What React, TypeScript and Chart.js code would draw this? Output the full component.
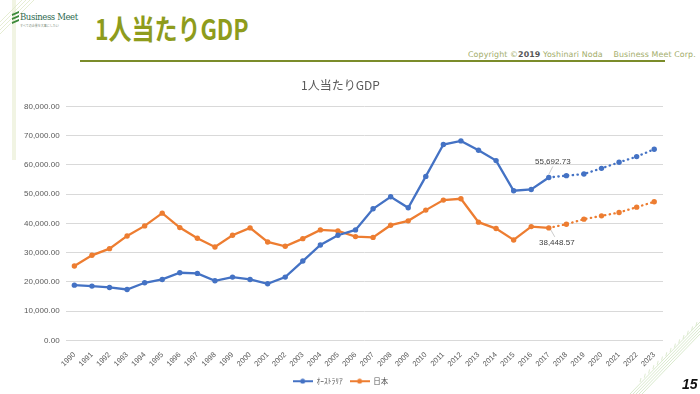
import React, { useEffect, useRef } from "react";
import { Chart, registerables } from "chart.js";

Chart.register(...registerables);

const years = [
  "1990","1991","1992","1993","1994","1995","1996","1997","1998","1999",
  "2000","2001","2002","2003","2004","2005","2006","2007","2008","2009",
  "2010","2011","2012","2013","2014","2015","2016","2017","2018","2019",
  "2020","2021","2022","2023",
];

const australia = [
  18880, 18540, 18080, 17400, 19680, 20830, 23120, 22890, 20370, 21630,
  20830, 19330, 21630, 27120, 32620, 35950, 37770, 44980, 49100, 45320,
  56070, 66950, 68210, 65000, 61460, 51160, 51600, 55692.73, 56310, 56890,
  58820, 60880, 62830, 65340,
];

const japan = [
  25400, 29080, 31350, 35700, 39140, 43500, 38560, 34900, 31930, 35950,
  38450, 33650, 32170, 34780, 37770, 37420, 35470, 35200, 39380, 40860,
  44530, 47960, 48410, 40410, 38220, 34330, 38900, 38448.57, 39720, 41440,
  42570, 43710, 45550, 47380,
];

const seriesNames = ["ｵｰｽﾄﾗﾘｱ", "日本"];
const seriesColors = ["#4472C4", "#ED7D31"];
const forecastFrom = 27; // index of 2017, last actual value
const yTicks = [0, 10000, 20000, 30000, 40000, 50000, 60000, 70000, 80000];

function legendIcon(color: string) {
  const c = document.createElement("canvas");
  c.width = 20;
  c.height = 6;
  const g = c.getContext("2d")!;
  g.strokeStyle = color;
  g.lineWidth = 2;
  g.beginPath();
  g.moveTo(0, 3);
  g.lineTo(20, 3);
  g.stroke();
  g.fillStyle = color;
  g.beginPath();
  g.arc(10, 3, 2.5, 0, Math.PI * 2);
  g.fill();
  return c;
}

const labelPlugin = {
  id: "endLabels",
  afterDatasetsDraw(chart: any) {
    const ctx = chart.ctx;
    const specs = [
      { ds: 0, dx: 4, dy: -16, lx0: 0, ly0: -3, lx1: 4, ly1: -11 },
      { ds: 1, dx: 8, dy: 15, lx0: 2, ly0: 2, lx1: 6, ly1: 9 },
    ];
    ctx.save();
    ctx.font = "8px 'Liberation Sans', Arial, sans-serif";
    ctx.textAlign = "center";
    ctx.textBaseline = "middle";
    for (const s of specs) {
      const meta = chart.getDatasetMeta(s.ds);
      const pt = meta.data[forecastFrom];
      const val = chart.data.datasets[s.ds].data[forecastFrom] as number;
      ctx.strokeStyle = "#bfbfbf";
      ctx.lineWidth = 0.8;
      ctx.beginPath();
      ctx.moveTo(pt.x + s.lx0, pt.y + s.ly0);
      ctx.lineTo(pt.x + s.lx1, pt.y + s.ly1);
      ctx.stroke();
      ctx.fillStyle = "#404040";
      ctx.fillText(
        val.toLocaleString("en-US", { minimumFractionDigits: 2, maximumFractionDigits: 2 }),
        pt.x + s.dx,
        pt.y + s.dy
      );
    }
    ctx.restore();
  },
};

function GdpChart() {
  const ref = useRef<HTMLCanvasElement>(null);
  useEffect(() => {
    const dash = (ctx: any) => (ctx.p0DataIndex >= forecastFrom ? [0.4, 4.4] : undefined);
    const mk = (i: number, data: number[]) => ({
      label: seriesNames[i],
      data,
      borderColor: seriesColors[i],
      backgroundColor: seriesColors[i],
      borderWidth: 2.3,
      pointRadius: 2.7,
      pointHoverRadius: 2.7,
      pointBorderWidth: 0,
      tension: 0,
      segment: { borderDash: dash, borderCapStyle: (c: any) => (c.p0DataIndex >= forecastFrom ? "round" : "butt") },
    });
    const chart = new Chart(ref.current!, {
      type: "line",
      data: { labels: years, datasets: [mk(0, australia), mk(1, japan)] },
      plugins: [labelPlugin],
      options: {
        animation: false,
        responsive: true,
        maintainAspectRatio: false,
        layout: { padding: { left: 18, right: 37, top: 0, bottom: 2 } },
        plugins: {
          tooltip: { enabled: false },
          title: {
            display: true,
            text: "1人当たりGDP",
            color: "#595959",
            font: { size: 12, family: "'Noto Sans CJK JP', 'Noto Sans', sans-serif", weight: "normal" },
            padding: { top: 7, bottom: 14 },
          },
          legend: {
            position: "bottom",
            labels: {
              color: "#595959",
              font: { size: 7.5, family: "'Noto Sans CJK JP', sans-serif" },
              usePointStyle: true,
              pointStyleWidth: 20,
              boxHeight: 6,
              padding: 7,
              generateLabels: (c: any) =>
                c.data.datasets.map((d: any, i: number) => ({
                  text: d.label,
                  fillStyle: seriesColors[i],
                  strokeStyle: seriesColors[i],
                  pointStyle: legendIcon(seriesColors[i]),
                  datasetIndex: i,
                  fontColor: "#595959",
                  lineWidth: 0,
                })),
            },
          },
        },
        scales: {
          x: {
            offset: true,
            grid: { display: false },
            border: { display: false },
            ticks: {
              color: "#595959",
              font: { size: 7.5, family: "'Liberation Sans', Arial, sans-serif" },
              minRotation: 45,
              maxRotation: 45,
              autoSkip: false,
              padding: 2,
            },
          },
          y: {
            min: 0,
            max: 80000,
            afterBuildTicks: (axis: any) => {
              axis.ticks = yTicks.map((v) => ({ value: v }));
            },
            grid: { color: "#d9d9d9", lineWidth: 1, drawTicks: false },
            border: { display: false },
            ticks: {
              color: "#595959",
              font: { size: 8, family: "'Liberation Sans', Arial, sans-serif" },
              padding: 6,
              callback: (v: any) =>
                Number(v).toLocaleString("en-US", { minimumFractionDigits: 2, maximumFractionDigits: 2 }),
            },
          },
        },
      } as any,
    });
    return () => chart.destroy();
  }, []);
  return (
    <div style={{ position: "absolute", left: 0, top: 71, width: 700, height: 326 }}>
      <canvas ref={ref} />
    </div>
  );
}

export default function App() {
  useEffect(() => {
    document.body.style.margin = "0";
  }, []);
  return (
    <div
      style={{
        position: "relative",
        width: 700,
        height: 394,
        overflow: "hidden",
        background: "#ffffff",
        fontFamily: "'Noto Sans CJK JP', 'Noto Sans', sans-serif",
      }}
    >
      {/* left pale band */}
      <div style={{ position: "absolute", left: 12, top: 0, width: 4, height: 160, background: "#f1f4e3" }} />
      {/* decorative lines */}
      <svg width={700} height={394} style={{ position: "absolute", left: 0, top: 0 }}>
        {[0, 4, 8, 12].map((o) => (
          <line key={"tl" + o} x1={0} y1={22 + o} x2={22 + o} y2={0} stroke="#dfe8c8" strokeWidth={0.8} />
        ))}
        {[0, 3, 6, 9, 12].map((o) => (
          <line key={"br" + o} x1={630 + o} y1={394} x2={700} y2={322 + o} stroke="#cfe3c0" strokeWidth={0.8} />
        ))}
        {Array.from({ length: 14 }).map((_, k) => {
          const x = 640 + k * 4.3;
          const y = 394 - (x - 630) - 2;
          return <line key={"tk" + k} x1={x} y1={y} x2={x + 1} y2={y - 4} stroke="#d6e6c6" strokeWidth={0.8} />;
        })}
        {/* logo stripes */}
        {[0, 4, 8].map((o) => (
          <polygon key={"lg" + o} points={`12,${14 + o} 19,${11 + o} 19,${13 + o} 12,${16 + o}`} fill="#3c8a3a" />
        ))}
      </svg>
      <div
        style={{
          position: "absolute",
          left: 20,
          top: 12,
          fontFamily: "'DejaVu Serif', serif",
          fontSize: 8.5,
          color: "#2f6b50",
          letterSpacing: -0.4,
        }}
      >
        Business Meet
      </div>
      <div style={{ position: "absolute", left: 20, top: 24, fontSize: 3, color: "#7a8b7a" }}>
        すべての企業を大事にしたい
      </div>
      <div
        style={{
          position: "absolute",
          left: 95,
          top: 8,
          fontSize: 28,
          fontWeight: 700,
          color: "#8e9c1c",
          transform: "scaleX(0.82)",
          transformOrigin: "left top",
          lineHeight: "40px",
          whiteSpace: "nowrap",
        }}
      >
        1人当たりGDP
      </div>
      <div
        style={{
          position: "absolute",
          left: 468,
          top: 49,
          fontSize: 7.9,
          color: "#a3ad6a",
          whiteSpace: "nowrap",
          fontFamily: "'DejaVu Sans', sans-serif",
          letterSpacing: 0.1,
        }}
      >
        Copyright ©<b style={{ color: "#555" }}>2019</b> Yoshinari Noda　 Business Meet Corp.
      </div>
      <div style={{ position: "absolute", left: 80, top: 60, width: 585, height: 2, background: "#7b8c2a" }} />
      <GdpChart />
      <div
        style={{
          position: "absolute",
          left: 682,
          top: 376,
          fontSize: 14,
          fontWeight: 700,
          fontStyle: "italic",
          color: "#111",
          fontFamily: "'Liberation Sans', Arial, sans-serif",
        }}
      >
        15
      </div>
    </div>
  );
}
